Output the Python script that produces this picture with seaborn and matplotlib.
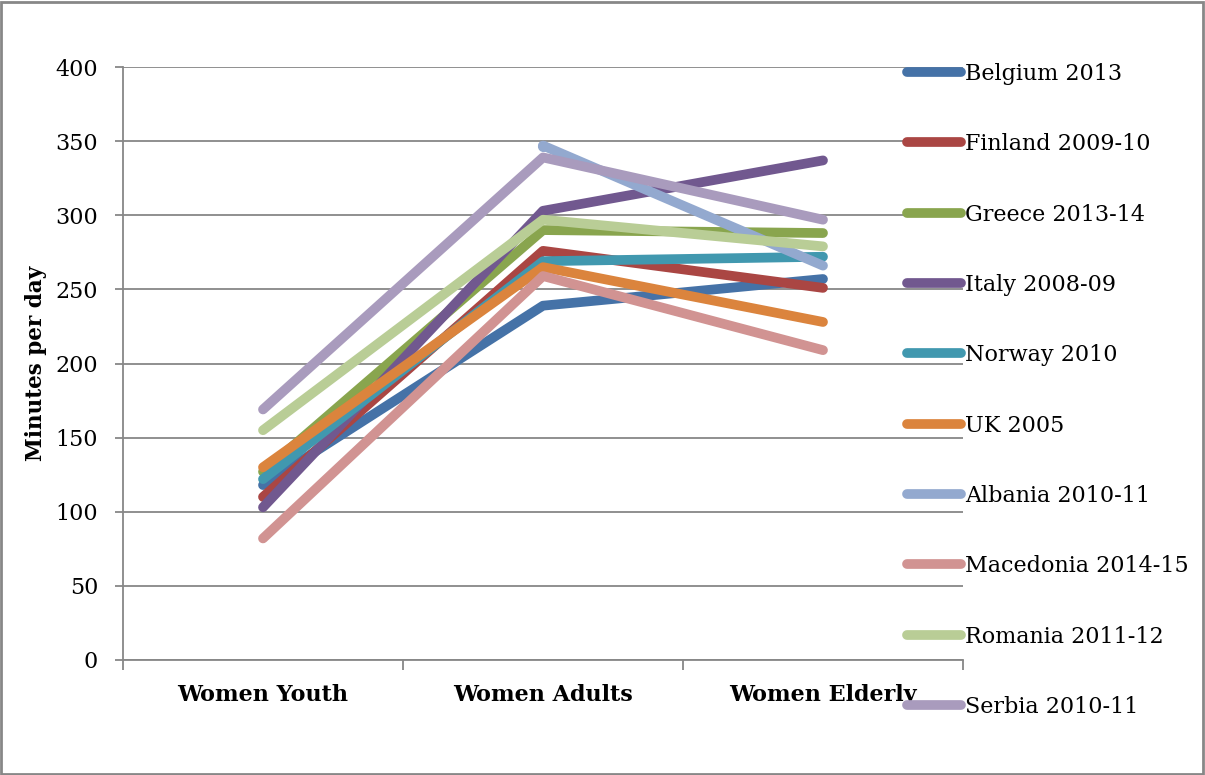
import numpy as np
import pandas as pd
import seaborn as sns
import matplotlib.pyplot as plt
from matplotlib.patches import Rectangle

groups = ['Women Youth', 'Women Adults', 'Women Elderly']
countries = ['Belgium 2013', 'Finland 2009-10', 'Greece 2013-14', 'Italy 2008-09',
             'Norway 2010', 'UK 2005', 'Albania 2010-11', 'Macedonia 2014-15',
             'Romania 2011-12', 'Serbia 2010-11']
belgium = [118, 239, 257]
finland = [110, 276, 251]
greece = [127, 290, 288]
italy = [103, 303, 337]
norway = [122, 269, 272]
uk = [130, 265, 228]
albania = [np.nan, 347, 266]  # no youth value shown
macedonia = [82, 259, 209]
romania = [155, 297, 279]
serbia = [169, 339, 297]
colors = ['#4572A7', '#AA4643', '#89A54E', '#71588F', '#4198AF',
          '#DB843D', '#93A9CF', '#D19392', '#B9CD96', '#A99BBD']

series = [belgium, finland, greece, italy, norway, uk, albania, macedonia, romania, serbia]
rows = []
for c, vals in zip(countries, series):
    for i, v in enumerate(vals):
        rows.append({'country': c, 'pos': i, 'minutes': v})
df = pd.DataFrame(rows)

sns.set_style('white')
plt.rcParams['font.family'] = ['DejaVu Serif']
plt.rcParams['text.color'] = 'black'
plt.rcParams['axes.labelcolor'] = 'black'
plt.rcParams['xtick.color'] = 'black'
plt.rcParams['ytick.color'] = 'black'

fig = plt.figure(figsize=(12.05, 7.75), dpi=100)
ax = fig.add_axes([123/1205, 1-660/775, 840/1205, 593/775])

sns.lineplot(data=df, x='pos', y='minutes', hue='country', hue_order=countries,
             palette=colors, linewidth=7, sort=False, ax=ax,
             solid_capstyle='round', legend=True)
# lone albania point (adults) drawn as a round cap
ax.plot([1], [albania[1]], 'o', color=colors[6], markersize=7, zorder=1.5)

ax.set_xlim(-0.5, 2.5)
ax.set_ylim(0, 400)
ax.set_yticks(np.arange(0, 401, 50))
ax.yaxis.grid(True, color='#878787', linewidth=1.3)
ax.set_axisbelow(True)
ax.tick_params(axis='y', labelsize=16, length=6, width=1.3, color='#878787',
               labelcolor='black', direction='out', left=True, pad=12)
ax.set_xticks([0, 1, 2])
ax.set_xticklabels(groups, fontsize=16, fontweight='bold')
ax.set_xticks([-0.5, 0.5, 1.5, 2.5], minor=True)
ax.tick_params(axis='x', which='major', length=0, pad=17, labelcolor='black')
ax.tick_params(axis='x', which='minor', length=7, width=1.3, color='#878787',
               direction='out', bottom=True)
for s in ['top', 'right']:
    ax.spines[s].set_visible(False)
for s in ['left', 'bottom']:
    ax.spines[s].set_color('#878787')
    ax.spines[s].set_linewidth(1.3)
ax.set_xlabel('')
ax.set_ylabel('Minutes per day', fontsize=15.5, fontweight='bold', labelpad=6,
              color='black')

handles, labels = ax.get_legend_handles_labels()
ax.get_legend().remove()
for h in handles:
    h.set_linewidth(7)
    h.set_solid_capstyle('round')
fig.legend(handles, labels, loc='upper left', bbox_to_anchor=(898/1205, 1-54/775),
           frameon=False, fontsize=16, handlelength=2.45, handletextpad=0.15,
           labelspacing=2.175, borderaxespad=0)

fig.patches.append(Rectangle((0.001, 0.001), 0.997, 0.997, transform=fig.transFigure,
                             fill=False, edgecolor='#878787', linewidth=2))

fig.savefig('out.png', dpi=100)
